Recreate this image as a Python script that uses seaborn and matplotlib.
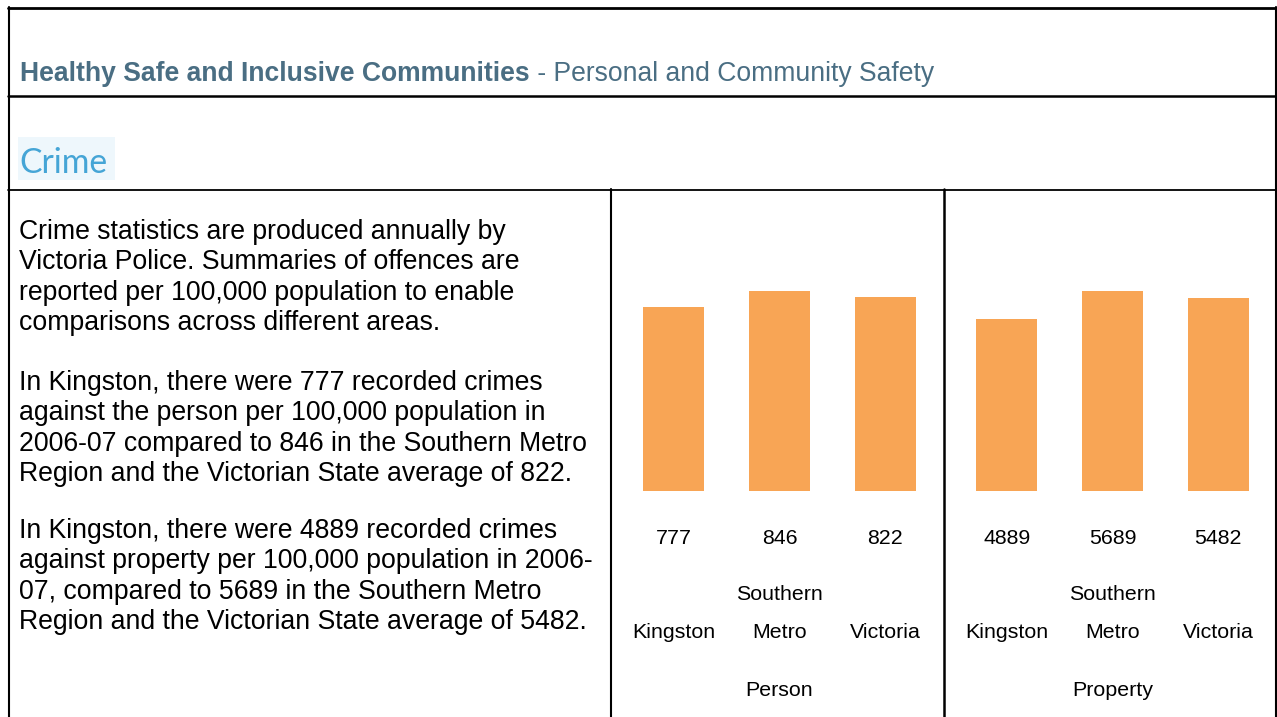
import matplotlib
matplotlib.use("Agg")
import matplotlib.pyplot as plt
from matplotlib.lines import Line2D
from matplotlib.patches import Rectangle
import matplotlib.transforms as mtransforms
import seaborn as sns
import pandas as pd

# ---- data ----
categories = ["Kingston", "Southern\nMetro", "Victoria"]
person_values = [777, 846, 822]
property_values = [4889, 5689, 5482]
group_titles = ["Person", "Property"]

title_bold = "Healthy Safe and Inclusive Communities"
title_rest = " - Personal and Community Safety"
section = "Crime"
paragraphs = [
    ["Crime statistics are produced annually by",
     "Victoria Police. Summaries of offences are",
     "reported per 100,000 population to enable",
     "comparisons across different areas."],
    ["In Kingston, there were 777 recorded crimes",
     "against the person per 100,000 population in",
     "2006-07 compared to 846 in the Southern Metro",
     "Region and the Victorian State average of 822."],
    ["In Kingston, there were 4889 recorded crimes",
     "against property per 100,000 population in 2006-",
     "07, compared to 5689 in the Southern Metro",
     "Region and the Victorian State average of 5482."],
]

W, H = 1277, 717
BAR = "#F8A555"
TITLE_C = "#4A6E83"

sns.set_theme(style="white")
plt.rcParams["font.family"] = ["Liberation Sans", "DejaVu Sans"]

fig = plt.figure(figsize=(W / 100, H / 100), dpi=100)
fig.patch.set_facecolor("white")


def fx(x):
    return x / W


def fy(y):
    return 1 - y / H


def hline(y, x0, x1, lw):
    fig.add_artist(Line2D([fx(x0), fx(x1)], [fy(y), fy(y)], color="black", lw=lw,
                          transform=fig.transFigure))


def vline(x, y0, y1, lw):
    fig.add_artist(Line2D([fx(x), fx(x)], [fy(y0), fy(y1)], color="black", lw=lw,
                          transform=fig.transFigure))


# table borders
hline(7.5, 8, 1276, 2.0)
hline(96, 8, 1276, 1.8)
hline(189.5, 8, 1276, 1.3)
vline(8.5, 7, 717, 1.5)
vline(1275.5, 7, 717, 1.5)
vline(610.5, 189, 717, 1.5)
vline(944, 189, 717, 1.8)

# title
t = fig.text(fx(20), fy(74), title_bold, fontsize=19.1, fontweight="bold",
             color=TITLE_C, va="center", ha="left")
fig.canvas.draw()
bb = t.get_window_extent()
fig.text(bb.x1 / W, fy(74), title_rest, fontsize=19.1, color=TITLE_C,
         va="center", ha="left")

# Crime heading
fig.add_artist(Rectangle((fx(18), fy(180)), fx(115) - fx(18), fy(137) - fy(180),
                         transform=fig.transFigure, facecolor="#EEF7FC",
                         edgecolor="none"))
fig.text(fx(19), fy(163), section, fontsize=24.2, color="#45A5D6",
         family=["Lato", "DejaVu Sans"], va="center", ha="left")

# paragraphs
starts = [232, 383, 531]
for p, y0 in zip(paragraphs, starts):
    for i, line in enumerate(p):
        fig.text(fx(19), fy(y0 + i * 30.3), line, fontsize=19.2, color="black",
                 va="center", ha="left")

# charts
axes_px = [(620.5, 938.5), (954, 1271)]
for (x0, x1), vals, gt in zip(axes_px, [person_values, property_values], group_titles):
    ax = fig.add_axes([fx(x0), fy(491), fx(x1) - fx(x0), fy(291) - fy(491)])
    df = pd.DataFrame({"cat": categories, "val": vals})
    sns.barplot(data=df, x="cat", y="val", ax=ax, color=BAR, saturation=1,
                width=0.58, edgecolor="none")
    ax.set_xlim(-0.5, len(categories) - 0.5)
    ax.set_ylim(0, max(vals))
    ax.axis("off")
    tr = mtransforms.blended_transform_factory(ax.transData, fig.transFigure)
    for i, (c, v) in enumerate(zip(categories, vals)):
        ax.text(i, fy(539), f"{v}", transform=tr, ha="center", va="center",
                fontsize=15.4, color="black", clip_on=False)
        ax.text(i, fy(642), c, transform=tr, ha="center", va="bottom",
                fontsize=15.4, color="black", linespacing=2.25, clip_on=False)
    ax.text(1, fy(691), gt, transform=tr, ha="center", va="center",
            fontsize=15.4, color="black", clip_on=False)

fig.savefig("out.png", dpi=100, facecolor="white")
